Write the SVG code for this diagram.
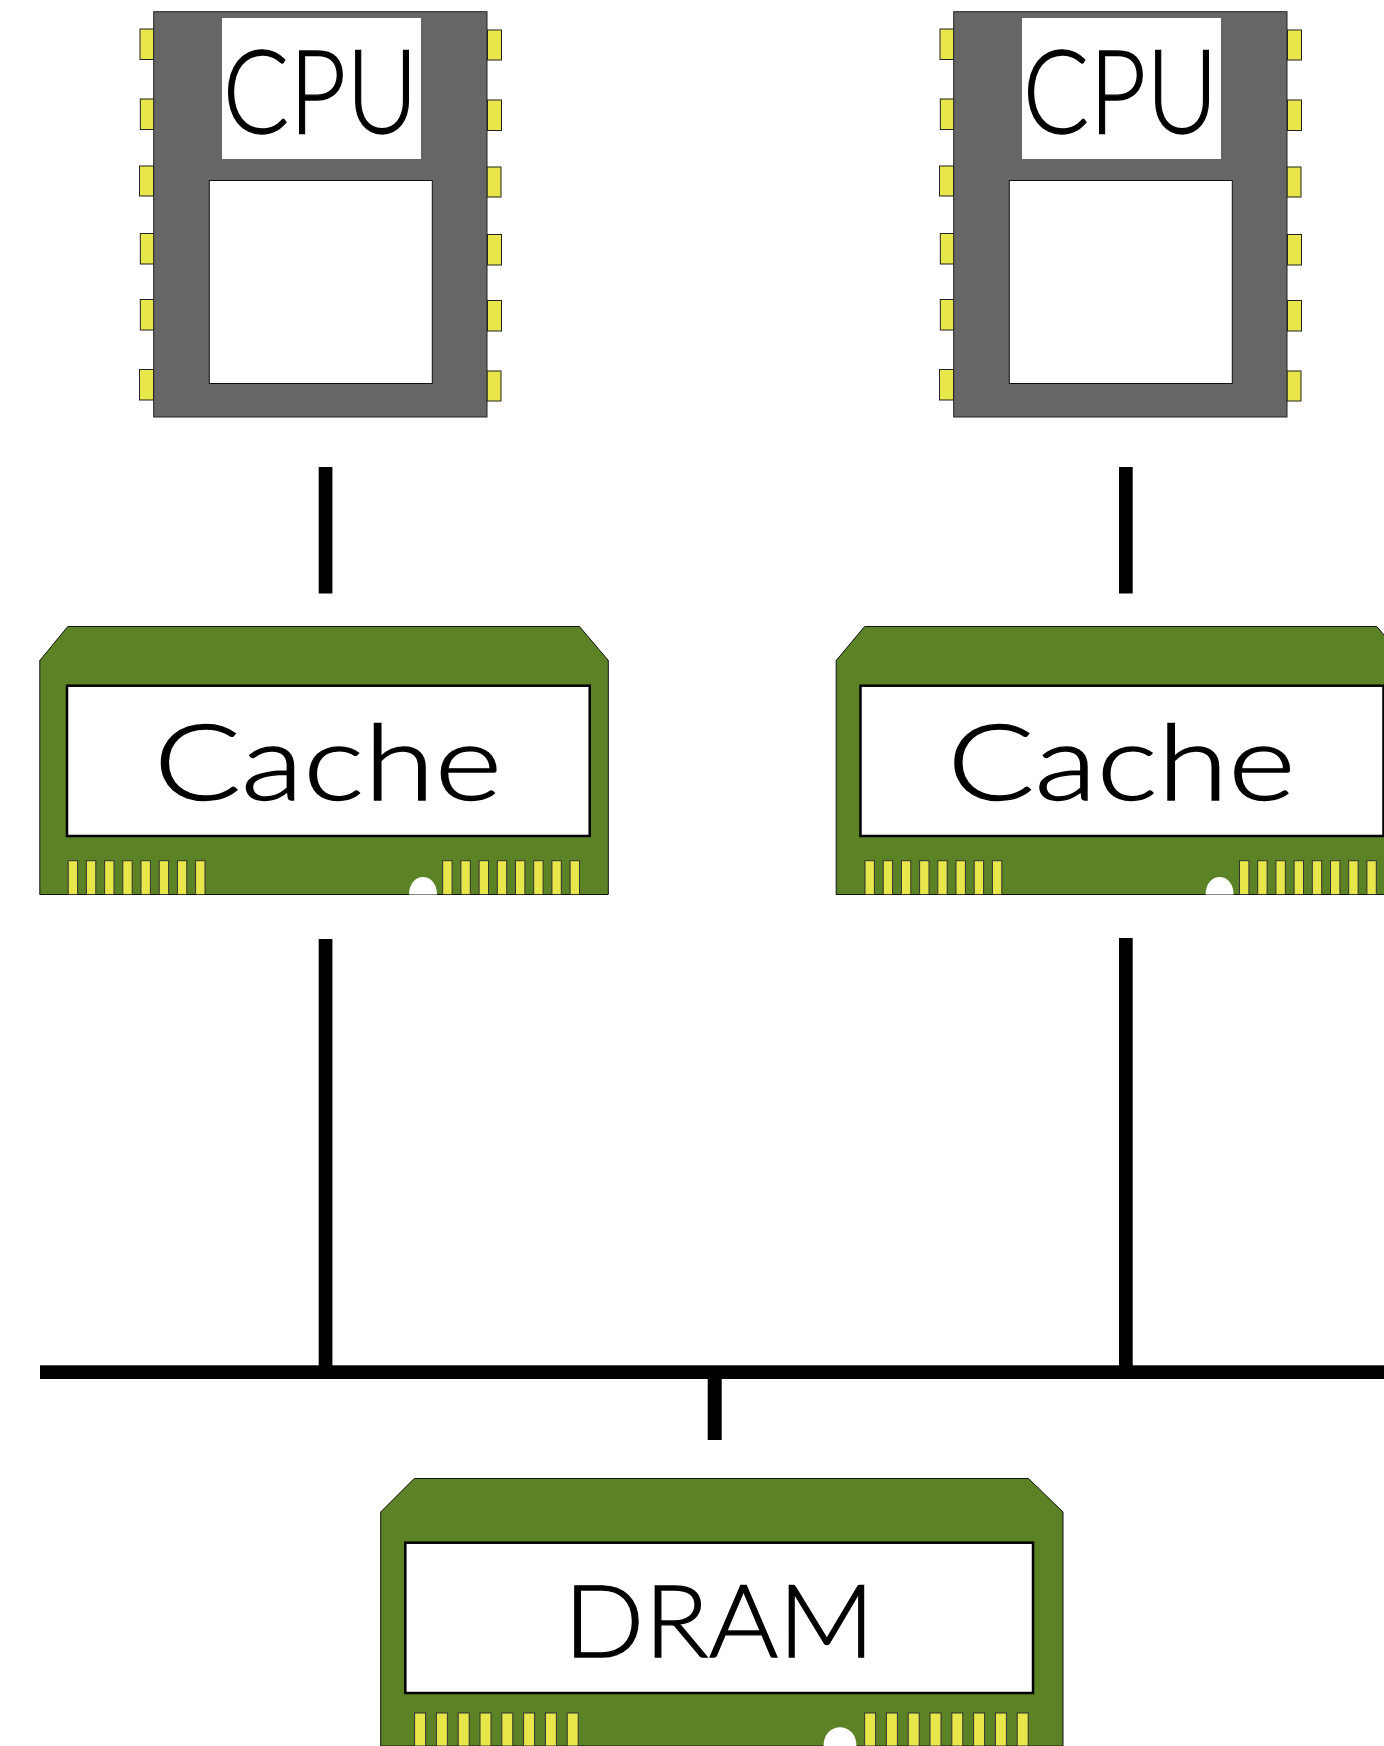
<svg xmlns="http://www.w3.org/2000/svg" width="1384" height="1746" viewBox="0 0 1384 1746">
<style>
.chip{fill:#666;stroke:#222;stroke-width:1}
.pin{fill:#e7e64a;stroke:#222;stroke-width:1}
.win{fill:#fff;stroke:#111;stroke-width:1}
.board{fill:#5c8226;stroke:#111;stroke-width:1}
.panel{fill:#fff;stroke:#000;stroke-width:2.5}
.cpin{fill:#e7e64a;stroke:#333;stroke-width:1}
.hole{fill:#fff}
.wire{fill:#000}
text{font-family:"Lato","Liberation Sans",sans-serif;font-weight:300;fill:#000;stroke:#000;stroke-width:1.3}
</style>
<defs>
<g id="cpuBody">
<rect class="pin" x="140" y="29" width="14" height="30.5"/><rect class="pin" x="140.3" y="99" width="14" height="30.5"/><rect class="pin" x="139.5" y="166" width="14" height="30"/><rect class="pin" x="140.3" y="233.5" width="14" height="30.5"/><rect class="pin" x="140.3" y="299.5" width="14" height="30.5"/><rect class="pin" x="139.5" y="369.5" width="14" height="30.5"/>
<rect class="pin" x="487.5" y="30" width="14" height="30"/><rect class="pin" x="487.5" y="100" width="14" height="30.5"/><rect class="pin" x="487" y="167" width="14" height="30"/><rect class="pin" x="487.5" y="234.5" width="14" height="30.5"/><rect class="pin" x="487.5" y="300.5" width="14" height="30.5"/><rect class="pin" x="487" y="371" width="14" height="30"/>
<rect class="chip" x="153.7" y="11.7" width="333.3" height="405.3"/>
<rect x="222" y="18" width="199" height="141" fill="#fff"/>
<rect class="win" x="209.3" y="180.5" width="223" height="203"/>
</g>
<g id="cachePins">
<rect class="cpin" x="68.2" y="860.7" width="9.4" height="33.8"/><rect class="cpin" x="86.4" y="860.7" width="9.4" height="33.8"/><rect class="cpin" x="104.6" y="860.7" width="9.4" height="33.8"/><rect class="cpin" x="122.8" y="860.7" width="9.4" height="33.8"/><rect class="cpin" x="141" y="860.7" width="9.4" height="33.8"/><rect class="cpin" x="159.2" y="860.7" width="9.4" height="33.8"/><rect class="cpin" x="177.4" y="860.7" width="9.4" height="33.8"/><rect class="cpin" x="195.6" y="860.7" width="9.4" height="33.8"/>
<rect class="cpin" x="442.7" y="860.7" width="9.4" height="33.8"/><rect class="cpin" x="460.9" y="860.7" width="9.4" height="33.8"/><rect class="cpin" x="479.1" y="860.7" width="9.4" height="33.8"/><rect class="cpin" x="497.3" y="860.7" width="9.4" height="33.8"/><rect class="cpin" x="515.5" y="860.7" width="9.4" height="33.8"/><rect class="cpin" x="533.7" y="860.7" width="9.4" height="33.8"/><rect class="cpin" x="551.9" y="860.7" width="9.4" height="33.8"/><rect class="cpin" x="570.1" y="860.7" width="9.4" height="33.8"/>
</g>
</defs>
<g id="connectors">
<rect class="wire" x="318.7" y="467" width="13.7" height="126.5"/>
<rect class="wire" x="1119" y="467" width="13.7" height="126.5"/>
<rect class="wire" x="318.7" y="939" width="13.7" height="430"/>
<rect class="wire" x="1119" y="938" width="13.7" height="431"/>
<rect class="wire" x="40" y="1365.3" width="1344" height="13.7"/>
<rect class="wire" x="707.7" y="1379" width="14" height="61"/>
</g>
<g id="cpu1">
<use href="#cpuBody"/>
<text x="222.8" y="133" font-size="117" textLength="195" lengthAdjust="spacingAndGlyphs">CPU</text>
</g>
<g id="cpu2">
<use href="#cpuBody" x="800"/>
<text x="1022.8" y="133" font-size="117" textLength="195" lengthAdjust="spacingAndGlyphs">CPU</text>
</g>
<g id="cache1">
<path class="board" d="M39.8 894.5V660.5L67.8 626.5H579.5L608.3 660.5V894.5Z"/>
<rect class="panel" x="67" y="685.7" width="522.7" height="150.3"/>
<use href="#cachePins"/>
<path class="hole" d="M409 894.5C409 871 437 871 437 894.5Z"/>
<text x="154" y="799.5" font-size="104" textLength="348" lengthAdjust="spacingAndGlyphs">Cache</text>
</g>
<g id="cache2">
<path class="board" d="M836.2 894.5V660.5L864.6 626.5H1376.8L1405.5 660.5V894.5Z"/>
<rect class="panel" x="860.5" y="685.7" width="523" height="150.3"/>
<use href="#cachePins" x="796.8"/>
<path class="hole" d="M1205.6 894.5C1205.6 871 1233.6 871 1233.6 894.5Z"/>
<text x="947.5" y="799.5" font-size="104" textLength="348" lengthAdjust="spacingAndGlyphs">Cache</text>
</g>
<g id="dram">
<path class="board" d="M380.7 1746V1512L414.2 1478.5H1028.5L1063 1512V1746Z"/>
<rect class="panel" x="405.3" y="1542.7" width="627.7" height="150.3"/>
<rect class="cpin" x="414.6" y="1713" width="11" height="33"/><rect class="cpin" x="436.4" y="1713" width="11" height="33"/><rect class="cpin" x="458.2" y="1713" width="11" height="33"/><rect class="cpin" x="480" y="1713" width="11" height="33"/><rect class="cpin" x="501.8" y="1713" width="11" height="33"/><rect class="cpin" x="523.6" y="1713" width="11" height="33"/><rect class="cpin" x="545.4" y="1713" width="11" height="33"/><rect class="cpin" x="567.2" y="1713" width="11" height="33"/>
<rect class="cpin" x="864.6" y="1713" width="11" height="33"/><rect class="cpin" x="886.4" y="1713" width="11" height="33"/><rect class="cpin" x="908.2" y="1713" width="11" height="33"/><rect class="cpin" x="930" y="1713" width="11" height="33"/><rect class="cpin" x="951.8" y="1713" width="11" height="33"/><rect class="cpin" x="973.6" y="1713" width="11" height="33"/><rect class="cpin" x="995.4" y="1713" width="11" height="33"/><rect class="cpin" x="1017.2" y="1713" width="11" height="33"/>
<path class="hole" d="M823.5 1746C823.5 1721 856.5 1721 856.5 1746Z"/>
<text x="563.7" y="1656.5" font-size="101" textLength="311" lengthAdjust="spacingAndGlyphs">DRAM</text>
</g>
</svg>
